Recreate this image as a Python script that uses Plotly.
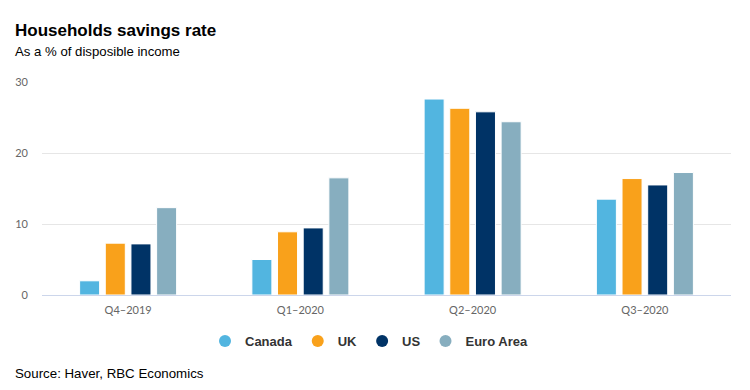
import plotly.graph_objects as go

categories = ["Q4-2019", "Q1-2020", "Q2-2020", "Q3-2020"]
tick_labels = ["Q4\u20132019", "Q1\u20132020", "Q2\u20132020", "Q3\u20132020"]
canada = [2.0, 5.0, 27.6, 13.5]
uk = [7.3, 8.9, 26.3, 16.4]
us = [7.2, 9.45, 25.8, 15.5]
euro_area = [12.3, 16.5, 24.4, 17.25]

series_names = ["Canada", "UK", "US", "Euro Area"]
series_values = [canada, uk, us, euro_area]
colors = ["#52B5E0", "#F9A11B", "#003366", "#87AEBF"]

W, H = 750, 390
L, R, T, B = 42, 19, 82, 95
pw = W - L - R
ph = H - T - B

fig = go.Figure()
for name, vals, c in zip(series_names, series_values, colors):
    fig.add_trace(go.Bar(
        x=categories, y=vals, name=name, marker=dict(color=c, line=dict(color="white", width=1)),
        showlegend=False, hoverinfo="y+name"))
for name, c in zip(series_names, colors):
    fig.add_trace(go.Scatter(
        x=[None], y=[None], mode="markers", name=name,
        marker=dict(symbol="circle", size=13, color=c)))

def px_x(p):
    return (p - L) / pw

def px_y(p):
    return (H - B - p) / ph

fig.update_layout(
    width=W, height=H,
    margin=dict(l=L, r=R, t=T, b=B, autoexpand=False),
    paper_bgcolor="white", plot_bgcolor="white",
    barmode="group", bargap=0.404, bargroupgap=0.22,
    font=dict(family="Liberation Sans, Arial, sans-serif", color="#333333"),
    xaxis=dict(
        tickvals=categories, ticktext=tick_labels,
        showgrid=False, showline=True, linecolor="#ccd6eb", linewidth=1,
        ticks="", ticklabelstandoff=5,
        tickfont=dict(size=11, color="#666666", family="Lato, sans-serif"),
        fixedrange=True,
    ),
    yaxis=dict(
        range=[0, 30], tickvals=[0, 10, 20, 30],
        showgrid=True, gridcolor="#e6e6e6", gridwidth=1,
        zeroline=False, showline=False, ticks="", ticklabelstandoff=13,
        tickfont=dict(size=11, color="#666666", family="Lato, sans-serif"),
        fixedrange=True,
    ),
    legend=dict(
        orientation="h", x=0.492, xanchor="center", xref="container",
        y=(H - 341) / H, yanchor="middle", yref="container",
        font=dict(size=13, color="#333333", family="Liberation Sans, Arial, sans-serif", weight="bold"),
        itemsizing="constant", itemwidth=30,
    ),
    annotations=[
        dict(text="<b>Households savings rate</b>", x=px_x(13), y=px_y(30),
             xref="paper", yref="paper", xanchor="left", yanchor="middle", showarrow=False,
             font=dict(size=17, color="#000000")),
        dict(text="As a % of disposible income", x=px_x(13), y=px_y(52),
             xref="paper", yref="paper", xanchor="left", yanchor="middle", showarrow=False,
             font=dict(size=13.2, color="#000000")),
        dict(text="Source: Haver, RBC Economics", x=px_x(13), y=px_y(373),
             xref="paper", yref="paper", xanchor="left", yanchor="middle", showarrow=False,
             font=dict(size=13.3, color="#000000")),
    ],
)

fig.write_html("out.html", config={"displayModeBar": False},
               post_script="document.body.style.margin='0';")
